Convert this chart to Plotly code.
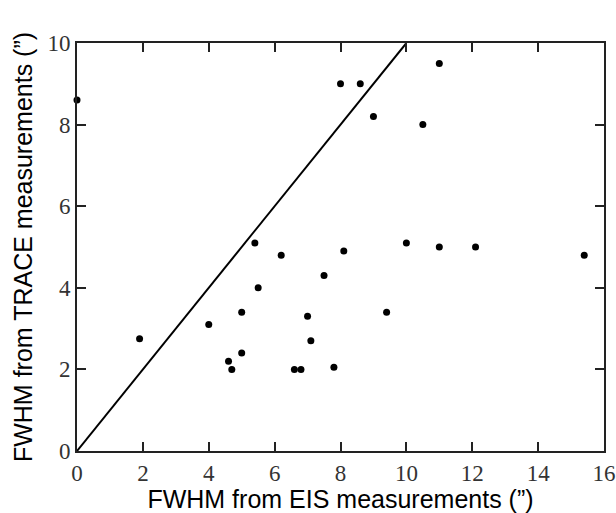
import plotly.graph_objects as go

eis_fwhm = [0.0, 1.9, 4.0, 4.6, 4.7, 5.0, 5.0, 5.4, 5.5, 6.2, 6.6, 6.8, 7.0, 7.1,
            7.5, 7.8, 8.1, 8.0, 8.6, 9.0, 10.5, 11.0, 9.4, 10.0, 11.0, 12.1, 15.4]
trace_fwhm = [8.6, 2.75, 3.1, 2.2, 2.0, 2.4, 3.4, 5.1, 4.0, 4.8, 2.0, 2.0, 3.3, 2.7,
              4.3, 2.05, 4.9, 9.0, 9.0, 8.2, 8.0, 9.5, 3.4, 5.1, 5.0, 5.0, 4.8]
one_to_one = [0, 10]
x_ticks = [0, 2, 4, 6, 8, 10, 12, 14, 16]
y_ticks = [0, 2, 4, 6, 8, 10]

fig = go.Figure()
fig.add_trace(go.Scatter(x=one_to_one, y=one_to_one, mode="lines",
                         line=dict(color="black", width=2), showlegend=False,
                         cliponaxis=True))
fig.add_trace(go.Scatter(x=eis_fwhm, y=trace_fwhm, mode="markers",
                         marker=dict(color="black", size=7), showlegend=False,
                         cliponaxis=False))

tick_font = dict(family="Liberation Serif", size=23, color="#333")
title_font = dict(family="Liberation Sans", size=25, color="black")
axis_common = dict(showgrid=False, zeroline=False, showline=True, linecolor="#222",
                   linewidth=2, mirror="ticks", ticks="inside", ticklen=9,
                   tickwidth=1.5, tickcolor="#222", tickfont=tick_font)

fig.update_xaxes(range=[0, 16], tickmode="array", tickvals=x_ticks,
                 ticktext=[str(v) for v in x_ticks],
                 title=dict(text="FWHM from EIS measurements (”)", font=title_font, standoff=3),
                 **axis_common)
fig.update_yaxes(range=[0, 10], tickmode="array", tickvals=y_ticks,
                 ticktext=[str(v) for v in y_ticks],
                 title=dict(text="FWHM from TRACE measurements (”)", font=title_font, standoff=8),
                 **axis_common)

fig.update_layout(width=616, height=513, plot_bgcolor="white", paper_bgcolor="white",
                  margin=dict(l=77, r=12, t=43, b=62, autoexpand=False))

fig.write_html("out.html", config={"displayModeBar": False},
               post_script="document.body.style.margin='0';")
